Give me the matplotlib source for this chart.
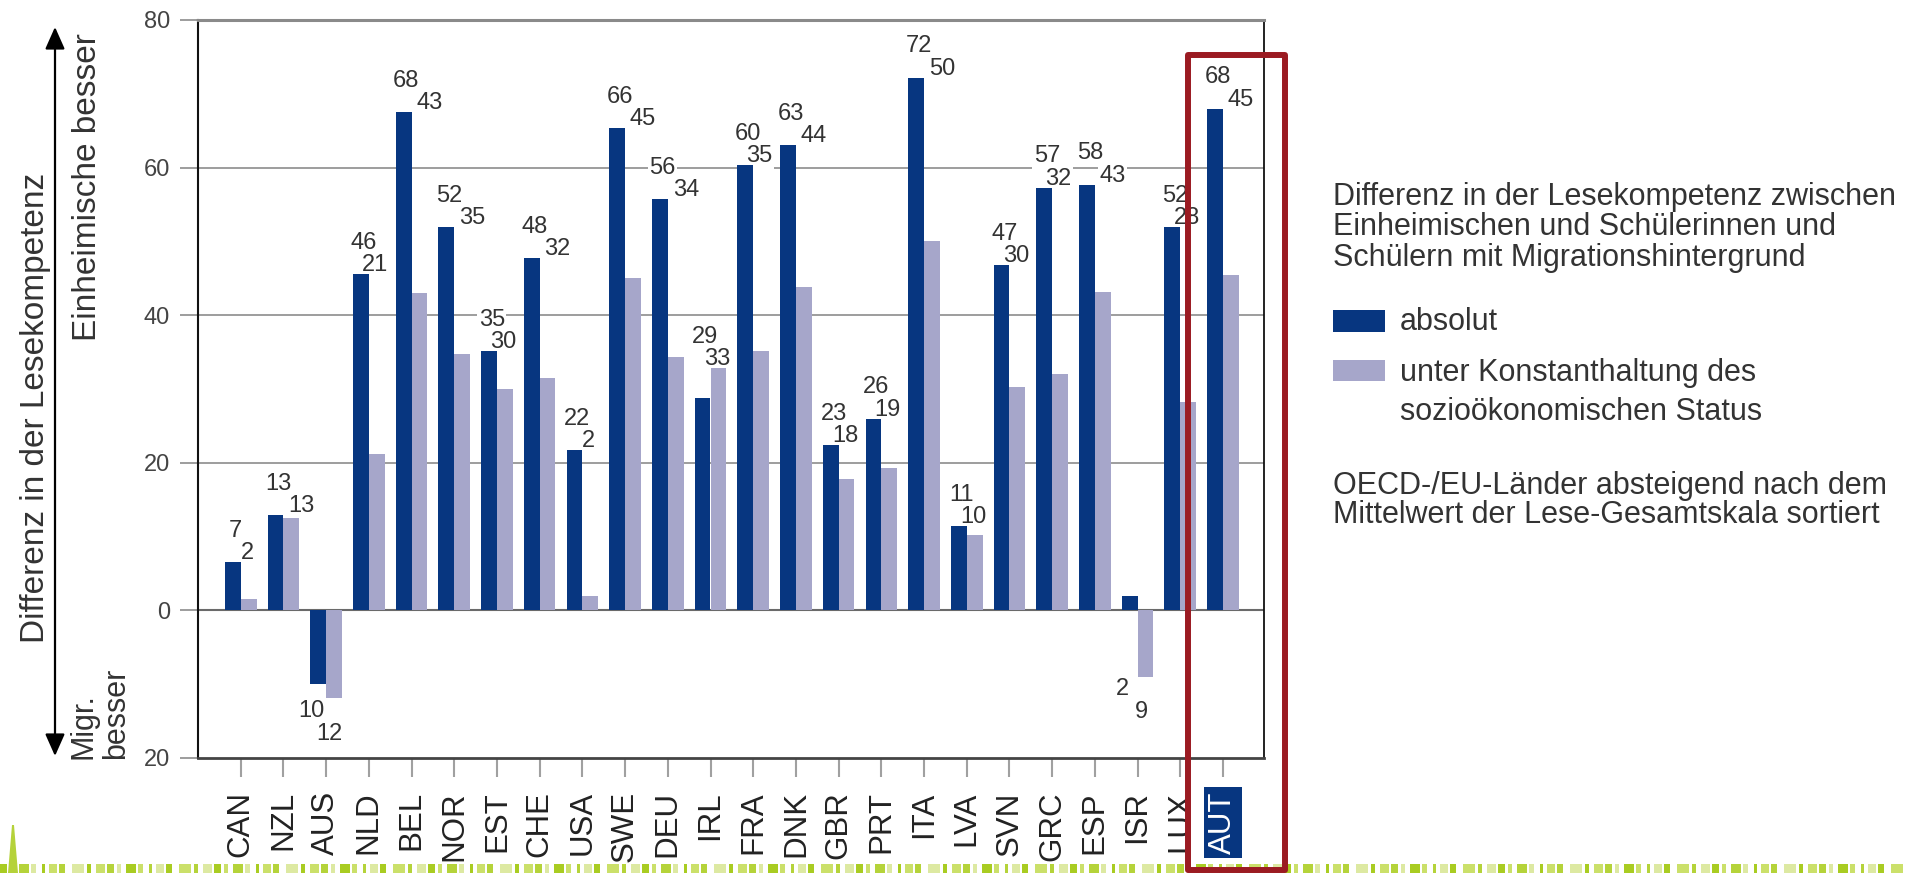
import numpy as np
import matplotlib
matplotlib.use("Agg")
import matplotlib.pyplot as plt
import matplotlib.transforms as mtransforms
from matplotlib.patches import Rectangle, FancyArrowPatch, Polygon

plt.rcParams['font.family'] = ['Liberation Sans', 'DejaVu Sans']

# Daten
laender = ["CAN", "NZL", "AUS", "NLD", "BEL", "NOR", "EST", "CHE", "USA", "SWE", "DEU", "IRL",
           "FRA", "DNK", "GBR", "PRT", "ITA", "LVA", "SVN", "GRC", "ESP", "ISR", "LUX", "AUT"]
absolut = [6.6, 12.9, -10.0, 45.6, 67.5, 52.0, 35.1, 47.8, 21.7, 65.4, 55.8, 28.8,
           60.3, 63.1, 22.4, 26.0, 72.2, 11.4, 46.8, 57.3, 57.7, 2.0, 52.0, 68.0]
konstant = [1.6, 12.5, -11.9, 21.2, 43.0, 34.8, 30.0, 31.5, 2.0, 45.0, 34.3, 32.8,
            35.1, 43.8, 17.8, 19.3, 50.0, 10.2, 30.3, 32.0, 43.2, -9.0, 28.3, 45.5]
lab_abs = [7, 13, 10, 46, 68, 52, 35, 48, 22, 66, 56, 29, 60, 63, 23, 26, 72, 11, 47, 57, 58, 2, 52, 68]
lab_kon = [2, 13, 12, 21, 43, 35, 30, 32, 2, 45, 34, 33, 35, 44, 18, 19, 50, 10, 30, 32, 43, 9, 28, 45]
yticks = [-20, 0, 20, 40, 60, 80]
ytick_labels = ["20", "0", "20", "40", "60", "80"]

DUNKEL = '#073680'
HELL = '#a6a6ca'
ROT = '#9b1b22'
TXT = '#333333'

W, H = 1905, 873
fig = plt.figure(figsize=(W / 100, H / 100), dpi=100)

# dekorativer Grasstreifen ganz unten
xp = 0
k = 0
while xp < W:
    bw = (7, 4, 10, 5, 3, 8, 6, 12, 4, 9)[k % 10]
    gap = (3, 5, 2, 6, 4, 2, 7, 3, 5, 2)[k % 10]
    c = ('#a9cc22', '#cbe06a', '#b5d33a', '#dde9a2')[k % 4]
    fig.patches.append(Rectangle((xp / W, 0), bw / W, 9 / H, transform=fig.transFigure,
                                 facecolor=c, edgecolor='none', zorder=0))
    xp += bw + gap
    k += 1
fig.patches.append(Polygon([(8 / W, 0), (18 / W, 0), (14 / W, 48 / H), (12 / W, 48 / H)],
                           closed=True, transform=fig.transFigure, facecolor='#b5d23a',
                           edgecolor='none', zorder=0))

ax = fig.add_axes([198 / W, 1 - 758 / H, (1264 - 198) / W, (758 - 20) / H])
x = np.arange(len(laender))
w = 0.37
ax.bar(x - w / 2, absolut, w, color=DUNKEL, zorder=2)
ax.bar(x + w / 2, konstant, w, color=HELL, zorder=2)
ax.set_xlim(-1.0, 23.96)
ax.set_ylim(-20, 80)

for yy in (20, 40, 60):
    ax.axhline(yy, color='#8c8c8c', lw=1.2, zorder=1)
ax.axhline(0, color='#6a6a6a', lw=1.5, zorder=1.2)

ax.spines['top'].set_color('#8a8a8a')
ax.spines['top'].set_linewidth(2.2)
ax.spines['left'].set_color('#111111')
ax.spines['left'].set_linewidth(1.5)
ax.spines['right'].set_color('#111111')
ax.spines['right'].set_linewidth(1.3)
ax.spines['bottom'].set_color('#444444')
ax.spines['bottom'].set_linewidth(2)

ax.set_yticks(yticks)
ax.set_yticklabels(ytick_labels)
ax.tick_params(axis='y', length=13, width=1.2, color='#8c8c8c', pad=7, labelsize=17, labelcolor='#444444')
ax.set_xticks(x)
ax.set_xticklabels(laender, rotation=90)
ax.tick_params(axis='x', length=14, width=1.5, color='#a0a0a0', pad=10, labelsize=22.5, labelcolor='#222222')
aut = ax.get_xticklabels()[-1]
aut.set_color('white')
aut.set_bbox(dict(facecolor=DUNKEL, edgecolor='none', pad=3))

# Wertbeschriftungen (weisser Hintergrund unterbricht nur die Gitterlinien)
box = dict(facecolor='white', edgecolor='none', pad=1)
n = len(laender)
for i in x:
    a, k = absolut[i], konstant[i]
    if min(a, k) < 0:
        base = min(a, k)
        ax.text(i - 0.35, base - 2.5, str(lab_abs[i]), ha='center', va='baseline',
                fontsize=17, color=TXT, bbox=box, zorder=1.5)
        ax.text(i + 0.08, base - 5.6, str(lab_kon[i]), ha='center', va='baseline',
                fontsize=17, color=TXT, bbox=box, zorder=1.5)
    else:
        top = max(a, k)
        naechste = max(absolut[i + 1], konstant[i + 1]) if i + 1 < n else -99
        off = 0.42 if naechste < top else 0.15
        ax.text(i - 0.12, top + 3.4, str(lab_abs[i]), ha='center', va='baseline',
                fontsize=17, color=TXT, bbox=box, zorder=1.5)
        ax.text(i + off, top + 0.4, str(lab_kon[i]), ha='center', va='baseline',
                fontsize=17, color=TXT, bbox=box, zorder=1.5)

# Achsenbeschriftung links mit Doppelpfeil
fig.text(36 / W, 1 - 408 / H, "Differenz in der Lesekompetenz", rotation=90,
         ha='center', va='center', fontsize=24, color=TXT)
fig.patches.append(FancyArrowPatch((55 / W, 1 - 756 / H), (55 / W, 1 - 27 / H),
                                   transform=fig.transFigure, arrowstyle='<|-|>,head_length=0.45,head_width=0.2',
                                   mutation_scale=30, lw=1.6, color='black', shrinkA=0, shrinkB=0))
fig.text(88 / W, 1 - 187 / H, "Einheimische besser", rotation=90,
         ha='center', va='center', fontsize=24, color=TXT)
fig.text(100 / W, 1 - 759 / H, "Migr.\nbesser", rotation=90, ha='center', va='bottom',
         multialignment='left', fontsize=22, color=TXT, linespacing=1.1)

# Legende rechts
lx = 1333 / W
fs = 22
fig.text(lx, 1 - 197 / H, "Differenz in der Lesekompetenz zwischen", ha='left', va='center', fontsize=fs, color=TXT)
fig.text(lx, 1 - 227 / H, "Einheimischen und Schülerinnen und", ha='left', va='center', fontsize=fs, color=TXT)
fig.text(lx, 1 - 258 / H, "Schülern mit Migrationshintergrund", ha='left', va='center', fontsize=fs, color=TXT)
fig.patches.append(Rectangle((lx, 1 - 332 / H), 52 / W, 22 / H, transform=fig.transFigure,
                             facecolor=DUNKEL, edgecolor='none'))
fig.patches.append(Rectangle((lx, 1 - 381 / H), 52 / W, 21 / H, transform=fig.transFigure,
                             facecolor=HELL, edgecolor='none'))
fig.text(1400 / W, 1 - 322 / H, "absolut", ha='left', va='center', fontsize=fs, color=TXT)
fig.text(1400 / W, 1 - 373 / H, "unter Konstanthaltung des", ha='left', va='center', fontsize=fs, color=TXT)
fig.text(1400 / W, 1 - 412 / H, "sozioökonomischen Status", ha='left', va='center', fontsize=fs, color=TXT)
fig.text(lx, 1 - 486 / H, "OECD-/EU-Länder absteigend nach dem", ha='left', va='center', fontsize=fs, color=TXT)
fig.text(lx, 1 - 515 / H, "Mittelwert der Lese-Gesamtskala sortiert", ha='left', va='center', fontsize=fs, color=TXT)

# roter Rahmen um Österreich
trans = mtransforms.blended_transform_factory(ax.transData, fig.transFigure)
i_aut = laender.index("AUT")
rahmen = Rectangle((i_aut - 0.81, 3 / H), 2.27, (870 - 55) / H, transform=trans, fill=False,
                   edgecolor=ROT, lw=4.3, joinstyle='round', clip_on=False, zorder=10)
fig.patches.append(rahmen)

fig.savefig("out.png", dpi=100)
